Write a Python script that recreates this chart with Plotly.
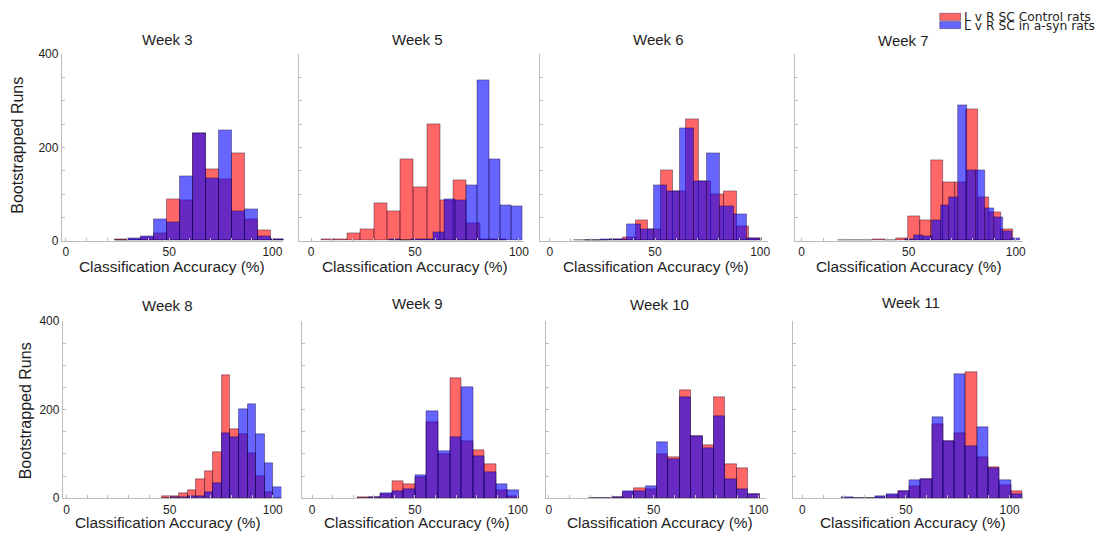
import plotly.graph_objects as go

W, H = 1113, 538
# Linear correction between layout pixels and displayed pixels
SX = 0.994
SY, OY = 0.9755, 7.0

weeks = ["Week 3", "Week 5", "Week 6", "Week 7", "Week 8", "Week 9", "Week 10", "Week 11"]
series_names = ["L v R SC Control rats", "L v R SC in a-syn rats"]

# Histogram binning per week: first bin edge and bin width (% accuracy)
ctrl_start = [23.7, 4.8, 16.7, 17.1, 46.4, 22.0, 19.0, 19.0]
ctrl_width = [6.28, 6.37, 6.0, 5.43, 4.13, 5.62, 5.43, 5.44]
syn_start = [23.7, 37.6, 11.4, 48.36, 46.4, 22.0, 19.0, 19.0]
syn_width = [6.28, 5.33, 6.33, 4.14, 4.13, 5.62, 5.43, 5.44]

# Bootstrapped run counts per bin, control rats
ctrl_week3 = [3, 4, 8, 16, 89, 86, 230, 154, 131, 188, 47, 22, 3]
ctrl_week5 = [2, 2, 16, 25, 81, 64, 174, 115, 249, 86, 130, 38, 3, 2]
ctrl_week6 = [1, 1, 2, 7, 44, 25, 152, 107, 260, 128, 100, 105, 30, 5]
ctrl_week7 = [1, 0, 0, 3, 0, 5, 53, 44, 173, 125, 125, 282, 93, 62, 25]
ctrl_week8 = [4, 4, 11, 18, 44, 62, 105, 278, 156, 144, 101, 50, 13, 0]
ctrl_week9 = [2, 2, 8, 39, 32, 48, 171, 99, 272, 129, 108, 78, 18, 5]
ctrl_week10 = [1, 1, 2, 13, 22, 20, 99, 93, 245, 141, 120, 229, 77, 68, 9]
ctrl_week11 = [0, 0, 1, 2, 7, 17, 28, 44, 167, 128, 148, 285, 93, 70, 29, 15]

# Bootstrapped run counts per bin, a-syn rats
syn_week3 = [0, 5, 9, 45, 39, 138, 231, 134, 236, 63, 68, 9, 4]
syn_week5 = [2, 0, 2, 2, 19, 88, 86, 118, 345, 174, 75, 74]
syn_week6 = [1, 1, 4, 3, 35, 25, 119, 107, 241, 128, 188, 73, 57, 5]
syn_week7 = [2, 12, 10, 44, 77, 94, 290, 152, 152, 70, 50, 21, 6]
syn_week8 = [1, 2, 3, 4, 5, 13, 33, 147, 137, 202, 212, 144, 80, 24]
syn_week9 = [1, 3, 11, 16, 21, 53, 196, 107, 137, 252, 95, 58, 32, 18]
syn_week10 = [0, 1, 3, 17, 17, 28, 126, 88, 229, 140, 113, 186, 43, 20, 8]
syn_week11 = [2, 0, 1, 5, 9, 15, 41, 44, 184, 128, 280, 118, 160, 68, 41, 9]

ctrl_counts = [ctrl_week3, ctrl_week5, ctrl_week6, ctrl_week7,
               ctrl_week8, ctrl_week9, ctrl_week10, ctrl_week11]
syn_counts = [syn_week3, syn_week5, syn_week6, syn_week7,
              syn_week8, syn_week9, syn_week10, syn_week11]

x_tick_vals = list(range(0, 101, 10))
x_tick_text = ["0", "", "", "", "", "50", "", "", "", "", "100"]
y_tick_vals = list(range(0, 401, 50))
y_tick_text = ["0", "", "", "", "200", "", "", "", "400"]

# Panel geometry (pixels) and visible accuracy range per panel
panel_px = [(62, 284), (300, 525), (541, 770), (796.7, 1025),
            (63, 282), (303, 520), (547, 768), (795, 1025)]
row_px = [(54.3, 241), (321.7, 499)]
x_ranges = [(-1.93, 105.3), (-5.6, 102.4), (-4.75, 103.9), (-3.07, 103.3),
            (-1.8, 104.2), (-4.7, 100.5), (-1.43, 103.8), (-4.33, 106.4)]
title_px = [(168, 40), (418, 40), (660, 40), (905, 41),
            (168, 306), (418, 304), (661, 305), (913, 303)]
xtitle_px = [(172, 267), (416, 267), (657, 267), (911, 267),
             (168, 523), (418, 523), (661, 523), (915, 523)]

RED = "rgba(255,0,0,0.6)"
BLUE = "rgba(0,0,255,0.6)"
EDGE = "rgba(20,0,40,0.55)"
FONT = "Liberation Sans, Arial, sans-serif"
TXT = "#1e1e1e"
AXC = "#bcbcbc"


def px_x(p):
    return (p / SX) / W


def px_y(p):
    return 1 - ((p - OY) / SY) / H


def centers(start, width, n):
    return [start + width * (k + 0.5) for k in range(n)]


fig = go.Figure()
layout = dict(
    width=W, height=H, autosize=False,
    margin=dict(l=0, r=0, t=0, b=0),
    paper_bgcolor="white", plot_bgcolor="white",
    barmode="overlay", bargap=0, showlegend=False,
    font=dict(family=FONT, color=TXT),
)

annotations = []
for i, week in enumerate(weeks):
    n = i + 1
    suffix = "" if n == 1 else str(n)
    row = 0 if i < 4 else 1
    ctrl = ctrl_counts[i]
    syn = syn_counts[i]
    fig.add_trace(go.Bar(
        x=centers(ctrl_start[i], ctrl_width[i], len(ctrl)), y=ctrl,
        width=ctrl_width[i], name=series_names[0],
        marker=dict(color=RED, line=dict(color=EDGE, width=0.7)),
        xaxis="x" + suffix, yaxis="y" + suffix,
    ))
    fig.add_trace(go.Bar(
        x=centers(syn_start[i], syn_width[i], len(syn)), y=syn,
        width=syn_width[i], name=series_names[1],
        marker=dict(color=BLUE, line=dict(color=EDGE, width=0.7)),
        xaxis="x" + suffix, yaxis="y" + suffix,
    ))
    left, right = panel_px[i]
    top, bottom = row_px[row]
    first_col = i % 4 == 0
    layout["xaxis" + suffix] = dict(
        domain=[px_x(left), px_x(right)], range=list(x_ranges[i]),
        anchor="y" + suffix, showgrid=False, zeroline=False,
        showline=True, linecolor=AXC, linewidth=1,
        ticks="inside", ticklen=3, tickcolor=AXC,
        tickvals=x_tick_vals, ticktext=x_tick_text,
        tickfont=dict(size=12, family=FONT, color=TXT),
        fixedrange=True,
    )
    layout["yaxis" + suffix] = dict(
        domain=[px_y(bottom), px_y(top)], range=[0, 400],
        anchor="x" + suffix, showgrid=False, zeroline=False,
        showline=True, linecolor=AXC, linewidth=1,
        ticks="inside", ticklen=3, tickcolor=AXC,
        tickvals=y_tick_vals,
        ticktext=y_tick_text if first_col else [""] * len(y_tick_vals),
        tickfont=dict(size=12, family=FONT, color=TXT),
        fixedrange=True,
    )
    tx, ty = title_px[i]
    annotations.append(dict(
        text=week, x=px_x(tx), y=px_y(ty), xref="paper", yref="paper",
        xanchor="center", yanchor="middle", showarrow=False,
        font=dict(size=15, family=FONT, color=TXT),
    ))
    ax_, ay_ = xtitle_px[i]
    annotations.append(dict(
        text="Classification Accuracy (%)", x=px_x(ax_), y=px_y(ay_),
        xref="paper", yref="paper", xanchor="center", yanchor="middle",
        showarrow=False, font=dict(size=15.4, family=FONT, color=TXT),
    ))

for yx, yy in [(18, 145), (25, 411)]:
    annotations.append(dict(
        text="Bootstrapped Runs", x=px_x(yx), y=px_y(yy),
        xref="paper", yref="paper", xanchor="center", yanchor="middle",
        textangle=-90, showarrow=False,
        font=dict(size=16, family=FONT, color=TXT),
    ))

# Legend drawn as swatches plus labels in the top-right corner
shapes = []
legend_rows = [(13.3, 20.4, 17.4), (21.6, 28.7, 25.9)]
for (y0, y1, yc), color, label in zip(legend_rows, [RED, BLUE], series_names):
    shapes.append(dict(
        type="rect", xref="paper", yref="paper",
        x0=px_x(941.7), x1=px_x(962.7), y0=px_y(y1), y1=px_y(y0),
        fillcolor=color, line=dict(color=EDGE, width=0.7),
    ))
    annotations.append(dict(
        text=label, x=px_x(964.5), y=px_y(yc), xref="paper", yref="paper",
        xanchor="left", yanchor="middle", showarrow=False,
        font=dict(size=12.3, family="DejaVu Sans", color=TXT),
    ))

layout["annotations"] = annotations
layout["shapes"] = shapes
fig.update_layout(**layout)
fig.write_html("out.html")
